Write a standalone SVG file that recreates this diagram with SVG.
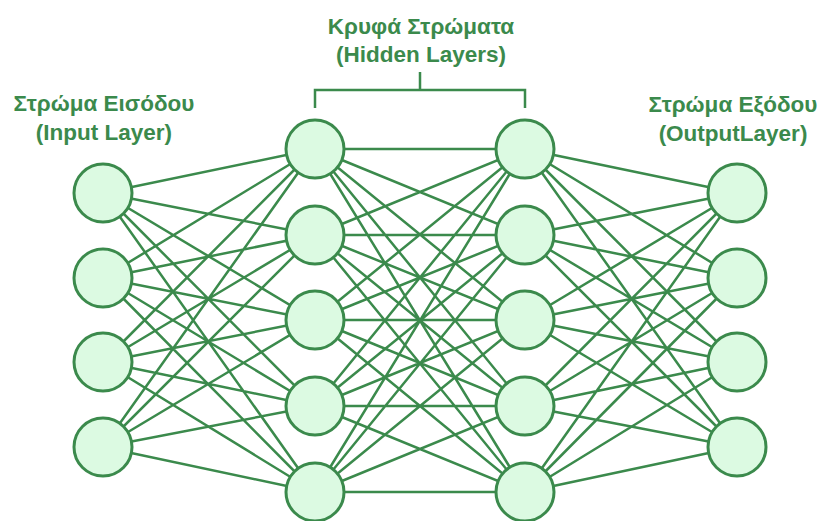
<svg xmlns="http://www.w3.org/2000/svg" width="818" height="521" viewBox="0 0 818 521">
<style>
.t{font-family:"Liberation Sans",Arial,sans-serif;font-weight:bold;font-size:22.5px;fill:#3b8a4c;text-anchor:middle}
.c{fill:#dcfae2;stroke:#3b8a4c;stroke-width:3}
.e{stroke:#3b8a4c;stroke-width:2.5;fill:none}
</style>
<rect width="818" height="521" fill="#ffffff"/>
<g id="labels">
<text class="t" x="104" y="111">Στρώμα Εισόδου</text>
<text class="t" x="104" y="140">(Input Layer)</text>
<text class="t" x="421" y="34">Κρυφά Στρώματα</text>
<text class="t" x="421" y="62">(Hidden Layers)</text>
<text class="t" x="733" y="112">Στρώμα Εξόδου</text>
<text class="t" x="733" y="141">(OutputLayer)</text>
</g>
<g id="bracket" class="e">
<path d="M315 108V90H525V108M420 90V72"/>
</g>
<g id="connectors" class="e">
<path d="M103 193L315 149M103 193L315 235M103 193L315 320M103 193L315 406M103 193L315 492
M103 278L315 149M103 278L315 235M103 278L315 320M103 278L315 406M103 278L315 492
M103 362L315 149M103 362L315 235M103 362L315 320M103 362L315 406M103 362L315 492
M103 447L315 149M103 447L315 235M103 447L315 320M103 447L315 406M103 447L315 492"/>
<path d="M315 149L525 149M315 149L525 235M315 149L525 320M315 149L525 406M315 149L525 492
M315 235L525 149M315 235L525 235M315 235L525 320M315 235L525 406M315 235L525 492
M315 320L525 149M315 320L525 235M315 320L525 320M315 320L525 406M315 320L525 492
M315 406L525 149M315 406L525 235M315 406L525 320M315 406L525 406M315 406L525 492
M315 492L525 149M315 492L525 235M315 492L525 320M315 492L525 406M315 492L525 492"/>
<path d="M525 149L737 193M525 149L737 278M525 149L737 362M525 149L737 447
M525 235L737 193M525 235L737 278M525 235L737 362M525 235L737 447
M525 320L737 193M525 320L737 278M525 320L737 362M525 320L737 447
M525 406L737 193M525 406L737 278M525 406L737 362M525 406L737 447
M525 492L737 193M525 492L737 278M525 492L737 362M525 492L737 447"/>
</g>
<g id="in1"><circle class="c" cx="103" cy="193" r="29"/></g>
<g id="in2"><circle class="c" cx="103" cy="278" r="29"/></g>
<g id="in3"><circle class="c" cx="103" cy="362" r="29"/></g>
<g id="in4"><circle class="c" cx="103" cy="447" r="29"/></g>
<g id="h1a"><circle class="c" cx="315" cy="149" r="29"/></g>
<g id="h1b"><circle class="c" cx="315" cy="235" r="29"/></g>
<g id="h1c"><circle class="c" cx="315" cy="320" r="29"/></g>
<g id="h1d"><circle class="c" cx="315" cy="406" r="29"/></g>
<g id="h1e"><circle class="c" cx="315" cy="492" r="29"/></g>
<g id="h2a"><circle class="c" cx="525" cy="149" r="29"/></g>
<g id="h2b"><circle class="c" cx="525" cy="235" r="29"/></g>
<g id="h2c"><circle class="c" cx="525" cy="320" r="29"/></g>
<g id="h2d"><circle class="c" cx="525" cy="406" r="29"/></g>
<g id="h2e"><circle class="c" cx="525" cy="492" r="29"/></g>
<g id="out1"><circle class="c" cx="737" cy="193" r="29"/></g>
<g id="out2"><circle class="c" cx="737" cy="278" r="29"/></g>
<g id="out3"><circle class="c" cx="737" cy="362" r="29"/></g>
<g id="out4"><circle class="c" cx="737" cy="447" r="29"/></g>
</svg>
